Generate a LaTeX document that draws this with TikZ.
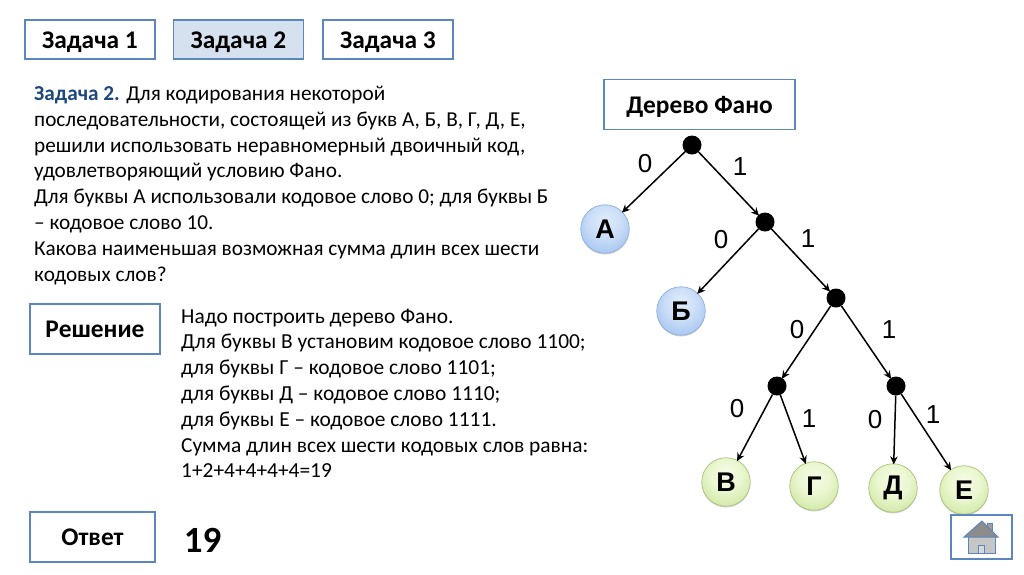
\documentclass[tikz,border=0pt]{standalone}
\usepackage{fontspec}
\setmainfont{Carlito}
\newfontfamily\arialf{Liberation Sans}
\usetikzlibrary{arrows.meta,shadows}
\definecolor{bord}{HTML}{5B87BE}
\definecolor{hdblue}{HTML}{1F497D}
\newcommand{\fsz}[2]{\fontsize{#1pt}{#2pt}\selectfont}
\pgfdeclareradialshading{blueball}{\pgfpoint{0bp}{10bp}}{rgb(0bp)=(0.88,0.93,0.98);rgb(16bp)=(0.80,0.87,0.97);rgb(34bp)=(0.62,0.76,0.94);rgb(60bp)=(0.56,0.71,0.91)}
\pgfdeclareradialshading{greenball}{\pgfpoint{0bp}{10bp}}{rgb(0bp)=(0.96,0.98,0.90);rgb(16bp)=(0.92,0.97,0.82);rgb(34bp)=(0.80,0.90,0.62);rgb(60bp)=(0.74,0.86,0.54)}
\tikzset{
  x=1pt,y=-1pt,
  box/.style={draw=bord,line width=1.8pt,fill=white,inner sep=0pt,text=black,font=\fsz{25.4}{28}\bfseries,minimum height=39pt,text height=17.5pt,text depth=0.5pt},
  inner/.style={circle,fill=black,draw=none,minimum size=19pt,inner sep=0pt},
  leaf/.style={circle,minimum size=48.5pt,inner sep=0pt,line width=.7pt,font=\arialf\fsz{27}{28}\bfseries,text=black,
    drop shadow={shadow xshift=0pt,shadow yshift=-1.2pt,opacity=.18,fill=black}},
  bleaf/.style={leaf,draw=bleafline,shading=blueball},
  gleaf/.style={leaf,draw=gleafline,shading=greenball},
  edge/.style={draw=black,line width=1.5pt,-{Stealth[length=8pt,width=7.5pt]},shorten >=-1pt},
  bit/.style={font=\arialf\fsz{26}{28},text=black,inner sep=0pt},
  para/.style={anchor=north west,align=left,inner sep=0pt,text=black},
}
\definecolor{bleafline}{HTML}{8FB0DC}
\definecolor{gleafline}{HTML}{A9C47C}
\begin{document}
\begin{tikzpicture}
\useasboundingbox (0,0) rectangle (1024,574);
\fill[white] (0,0) rectangle (1024,574);
% top buttons
\node[box,minimum width=130pt] (z1) at (90,39.5) {Задача 1};
\node[box,minimum width=130pt,fill=bord!25] (z2) at (238.5,39.5) {Задача 2};
\node[box,minimum width=130pt] (z3) at (388,39.5) {Задача 3};
% statement
\node[para,font=\fsz{21.25}{25.8}] (stmt) at (34,86) {{\bfseries\color{hdblue}Задача 2.} Для кодирования некоторой\\
последовательности, состоящей из букв А, Б, В, Г, Д, Е,\\
решили использовать неравномерный двоичный код,\\
удовлетворяющий условию Фано.\\
Для буквы А использовали кодовое слово 0; для буквы Б\\
– кодовое слово 10.\\
Какова наименьшая возможная сумма длин всех шести\\
кодовых слов?};
% solution
\node[box,minimum width=130pt,minimum height=50pt] (sol) at (95,329) {Решение};
\node[para,font=\fsz{21.4}{25.8}] (soltext) at (181,308.5) {Надо построить дерево Фано.\\
Для буквы В установим кодовое слово 1100;\\
для буквы Г – кодовое слово 1101;\\
для буквы Д – кодовое слово 1110;\\
для буквы Е – кодовое слово 1111.\\
Сумма длин всех шести кодовых слов равна:\\
1+2+4+4+4+4=19};
% answer
\node[box,minimum width=125pt,minimum height=50pt] (ans) at (92.5,537) {Ответ};
\node[inner sep=0pt,font=\fsz{37}{40}\bfseries,text=black] (val) at (202.5,540) {19};
% tree
\node[box,minimum width=191pt,minimum height=50pt] (title) at (699.5,104.5) {Дерево Фано};
\node[inner] (r) at (692,145) {};
\node[inner] (n1) at (765,222) {};
\node[inner] (n2) at (836,298) {};
\node[inner] (n3) at (777,386) {};
\node[inner] (n4) at (896,386) {};
\node[bleaf] (A) at (605,229) {А};
\node[bleaf] (B) at (681,311) {Б};
\node[gleaf] (V) at (726,482) {В};
\node[gleaf] (G) at (814,486) {Г};
\node[gleaf] (D) at (893,488) {Д};
\node[gleaf] (E) at (964,490) {Е};
\draw[edge] (r) -- (A);
\draw[edge] (r) -- (n1);
\draw[edge] (n1) -- (B);
\draw[edge] (n1) -- (n2);
\draw[edge] (n2) -- (n3);
\draw[edge] (n2) -- (n4);
\draw[edge] (n3) -- (V);
\draw[edge] (n3) -- (G);
\draw[edge] (n4) -- (D);
\draw[edge] (n4) -- (E);
\node[bit] (b1) at (645,164) {0};
\node[bit] (b2) at (740,167) {1};
\node[bit] (b3) at (721,240) {0};
\node[bit] (b4) at (808,239) {1};
\node[bit] (b5) at (797,330) {0};
\node[bit] (b6) at (889,330) {1};
\node[bit] (b7) at (737,409) {0};
\node[bit] (b8) at (809,419) {1};
\node[bit] (b9) at (875,420) {0};
\node[bit] (b10) at (933,415) {1};
% home button
\draw[bord,line width=1.5pt,fill=white] (951,515) rectangle (1012,559);
\fill[gray!75,draw=bord,line width=1pt] (987,523) rectangle (992,532);
\fill[gray!45,draw=bord,line width=1pt] (968,534) rectangle (995,553);
\fill[gray!30,draw=bord,line width=1pt] (978,545) rectangle (984,553);
\fill[gray!90,draw=bord,line width=1pt] (964,537) -- (982,521) -- (998,537) -- cycle;
\end{tikzpicture}
\end{document}
